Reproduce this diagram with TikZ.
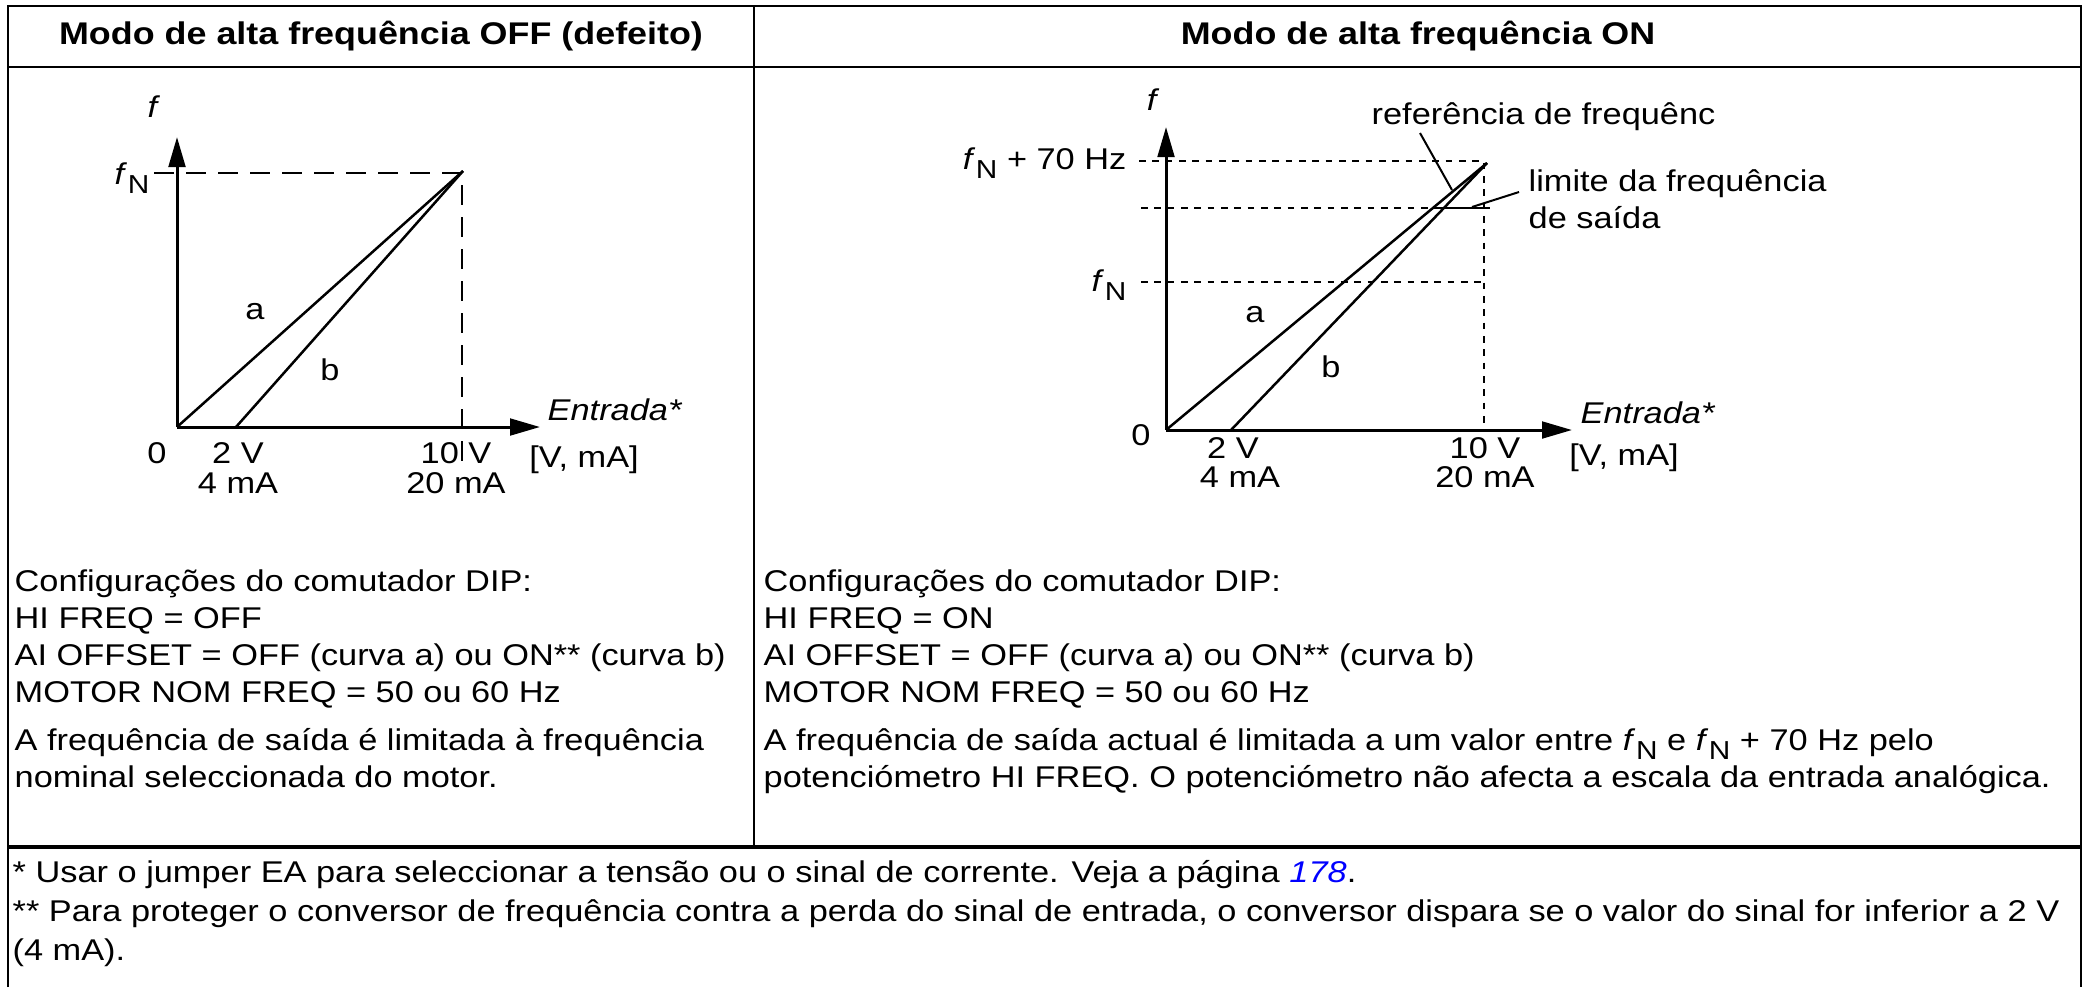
\documentclass[tikz,border=0pt]{standalone}
\usepackage{fontspec}
\setmainfont{Liberation Sans}[FakeStretch=1.145]
\usepackage{xcolor}
\usetikzlibrary{positioning,arrows.meta}

\newcommand{\fN}{\textit{f}\kern0.2pt\raisebox{-0.55ex}{\fontsize{7.8}{8}\selectfont N}}

\begin{document}
\begin{tikzpicture}[
    x=0.3pt, y=-0.3pt,
    font=\fontsize{9}{11.1}\selectfont,
    rule/.style    ={line width=0.75pt},
    thickrule/.style={line width=1.05pt},
    axis/.style    ={line width=0.9pt, -{Triangle[length=9pt,width=5pt]}},
    curve/.style   ={line width=0.75pt},
    guide/.style   ={line width=0.6pt, dash pattern=on 6pt off 3.6pt},
    dotguide/.style={line width=0.6pt, dash pattern=on 2pt off 2pt},
    lbl/.style     ={inner sep=0pt},
    head/.style    ={inner sep=0pt, font=\fontsize{9.4}{11}\selectfont\bfseries},
    txt/.style     ={inner sep=0pt, align=left, anchor=north west}
]
\useasboundingbox (0,0) rectangle (2090,987);

% --- table frame ---
\draw[rule] (8,987) -- (8,6) -- (2081,6) -- (2081,987);
\draw[rule] (8,67) -- (2081,67);
\draw[line width=0.6pt] (754,6) -- (754,847);
\draw[thickrule] (8,847) -- (2081,847);

% --- headers ---
\node[head] (hdoff) at (381,36) {Modo de alta frequência OFF (defeito)};
\node[head] (hdon)  at (1418,36) {Modo de alta frequência ON};

% --- left graph: HI FREQ off ---
\coordinate (o1) at (177,427);
\coordinate (y1) at (177,137);
\coordinate (x1) at (540,427);
\coordinate (s1) at (236,427);
\coordinate (p1) at (463,171);
\draw[guide] (154,173) -- (462,173) -- (462,462);
\draw[axis] (o1) -- (y1);
\draw[axis] (o1) -- (x1);
\draw[curve] (o1) -- (p1);
\draw[curve] (s1) -- (p1);

\node[lbl] (f1) at (154,107) {\textit{f}};
\node[lbl, anchor=east] (fn1) at (150,178) {\fN};
\node[lbl] (ca1) at (255,312) {a};
\node[lbl] (cb1) at (330,370) {b};
\node[lbl] (in1) at (615,410) {\textit{Entrada*}};
\node[lbl] (un1) at (584,460) {[V, mA]};
\node[lbl] (z1)  at (157,453) {0};
\node[lbl] (lo1) at (238,453) {2 V};
\node[lbl] (lm1) at (238,483) {4 mA};
\node[lbl] (hi1) at (456,453) {10 V};
\node[lbl] (hm1) at (456,483) {20 mA};

% --- right graph: HI FREQ on ---
\coordinate (o2) at (1166,430);
\coordinate (y2) at (1166,127);
\coordinate (x2) at (1572,430);
\coordinate (s2) at (1231,430);
\coordinate (p2) at (1487,163);
\coordinate (lim) at (1433,208);
\draw[dotguide] (1139,161) -- (1484,161) -- (1484,430);
\draw[dotguide] (1141,208) -- (lim);
\draw[dotguide] (1141,282) -- (1484,282);
\draw[axis] (o2) -- (y2);
\draw[axis] (o2) -- (x2);
\draw[curve] (o2) -- (p2);
\draw[curve] (s2) -- (p2);
\draw[curve] (lim) -- (1490,208);

\node[lbl] (f2) at (1153,100) {\textit{f}};
\node[lbl, anchor=east] (fn70) at (1127,163) {\fN{} + 70 Hz};
\node[lbl, anchor=east] (fn2) at (1127,285) {\fN};
\node[lbl] (ca2) at (1255,315) {a};
\node[lbl] (cb2) at (1331,367) {b};
\node[lbl] (in2) at (1648,413) {\textit{Entrada*}};
\node[lbl] (un2) at (1624,458) {[V, mA]};
\node[lbl] (z2)  at (1141,435) {0};
\node[lbl] (lo2) at (1233,448) {2 V};
\node[lbl] (lm2) at (1240,477) {4 mA};
\node[lbl] (hi2) at (1485,448) {10 V};
\node[lbl] (hm2) at (1485,477) {20 mA};

% --- callouts ---
\node[lbl, anchor=west] (reflbl) at (1371,117) {referência de frequênc};
\node[txt, anchor=west] (limlbl) at (1528,199) {limite da frequência\\de saída};
\coordinate (refa) at (1420,133);
\coordinate (refb) at (1452,190);
\coordinate (lima) at (1519,192);
\coordinate (limb) at (1472,207);
\draw[line width=0.6pt] (refa) -- (refb);
\draw[line width=0.6pt] (lima) -- (limb);

% --- settings text ---
\node[txt] (cfgoff) at (14,569) {Configurações do comutador DIP:\\HI FREQ = OFF\\AI OFFSET = OFF (curva a) ou ON** (curva b)\\MOTOR NOM FREQ = 50 ou 60 Hz};
\node[txt] (notoff) at (14,728) {A frequência de saída é limitada à frequência\\nominal seleccionada do motor.};
\node[txt] (cfgon) at (763,569) {Configurações do comutador DIP:\\HI FREQ = ON\\AI OFFSET = OFF (curva a) ou ON** (curva b)\\MOTOR NOM FREQ = 50 ou 60 Hz};
\node[txt] (noton) at (763,728) {A frequência de saída actual é limitada a um valor entre \fN{} e \fN{} + 70 Hz pelo\\potenciómetro HI FREQ. O potenciómetro não afecta a escala da entrada analógica.};

% --- footnotes ---
\node[txt, font=\fontsize{9}{11.6}\selectfont] (foot) at (12,860) {* Usar o jumper EA para seleccionar a tensão ou o sinal de corrente. Veja a página \textcolor{blue}{\textit{178}}.\\{}** Para proteger o conversor de frequência contra a perda do sinal de entrada, o conversor dispara se o valor do sinal for inferior a 2 V\\(4 mA).};

\end{tikzpicture}
\end{document}
